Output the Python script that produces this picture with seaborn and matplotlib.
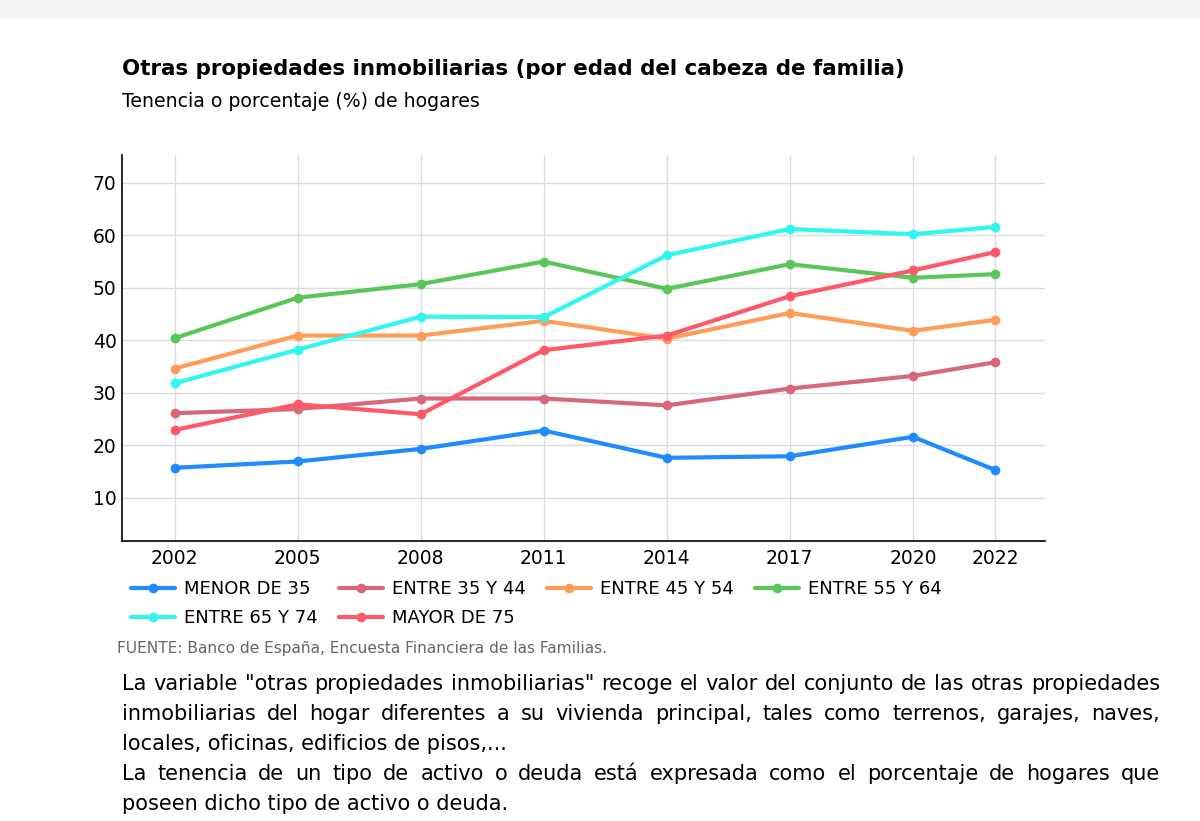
import pandas as pd
import matplotlib.pyplot as plt
import seaborn as sns
from matplotlib.patches import Rectangle

# Tenencia (%) de otras propiedades inmobiliarias por edad del cabeza de familia
years = [2002, 2005, 2008, 2011, 2014, 2017, 2020, 2022]
groups = ["MENOR DE 35", "ENTRE 35 Y 44", "ENTRE 45 Y 54",
          "ENTRE 55 Y 64", "ENTRE 65 Y 74", "MAYOR DE 75"]
menor_35 = [15.7, 16.9, 19.3, 22.8, 17.6, 17.9, 21.6, 15.3]
entre_35_44 = [26.1, 26.9, 28.9, 28.9, 27.6, 30.8, 33.2, 35.8]
entre_45_54 = [34.6, 40.9, 40.9, 43.7, 40.3, 45.2, 41.8, 43.9]
entre_55_64 = [40.4, 48.1, 50.7, 55.0, 49.8, 54.5, 51.9, 52.6]
entre_65_74 = [31.8, 38.2, 44.5, 44.4, 56.2, 61.2, 60.2, 61.6]
mayor_75 = [22.9, 27.8, 25.9, 38.1, 40.9, 48.4, 53.3, 56.8]
colors = ["#1f8bff", "#d6687a", "#ff9d58", "#58c757", "#2ff7f0", "#ff5868"]

title = "Otras propiedades inmobiliarias (por edad del cabeza de familia)"
subtitle = "Tenencia o porcentaje (%) de hogares"
source = "FUENTE: Banco de España, Encuesta Financiera de las Familias."
notes = [
    ('La variable "otras propiedades inmobiliarias" recoge el valor del conjunto de las otras propiedades', True),
    ("inmobiliarias del hogar diferentes a su vivienda principal, tales como terrenos, garajes, naves,", True),
    ("locales, oficinas, edificios de pisos,...", False),
    ("La tenencia de un tipo de activo o deuda está expresada como el porcentaje de hogares que", True),
    ("poseen dicho tipo de activo o deuda.", False),
]

df = pd.DataFrame({"year": years, groups[0]: menor_35, groups[1]: entre_35_44,
                   groups[2]: entre_45_54, groups[3]: entre_55_64,
                   groups[4]: entre_65_74, groups[5]: mayor_75})
df = df.melt(id_vars="year", var_name="grupo", value_name="valor")

sns.set_style("white")
plt.rcParams["font.family"] = ["DejaVu Sans"]
plt.rcParams["text.color"] = "black"

W, H = 1200, 821
fig = plt.figure(figsize=(12, 8.21), dpi=100)
fig.patches.append(Rectangle((0, 1 - 18 / H), 1, 18 / H, transform=fig.transFigure,
                             color="#f3f4f6", zorder=0))
ax = fig.add_axes([122 / W, 1 - 541 / H, (1045 - 122) / W, (541 - 155) / H])

sns.lineplot(data=df, x="year", y="valor", hue="grupo", hue_order=groups,
             palette=colors, marker="o", markersize=7, markeredgewidth=0,
             linewidth=3, ax=ax)

ax.set_xlim(2000.72, 2023.22)
ax.set_ylim(1.75, 75.3)
ax.set_xticks(years)
ax.set_yticks([10, 20, 30, 40, 50, 60, 70])
ax.set_xlabel("")
ax.set_ylabel("")
ax.grid(True, color="#dcdcdc", linewidth=1)
ax.set_axisbelow(True)
for s in ["top", "right"]:
    ax.spines[s].set_visible(False)
for s in ["left", "bottom"]:
    ax.spines[s].set_color("black")
    ax.spines[s].set_linewidth(1.2)
ax.tick_params(direction="in", length=5, width=1, labelsize=13.5, colors="black")
ax.tick_params(axis="x", pad=6)
ax.tick_params(axis="y", pad=4)

# legend filled row by row like the original (4 columns)
handles, labels = ax.get_legend_handles_labels()
order = [0, 4, 1, 5, 2, 3]
ax.legend([handles[i] for i in order], [labels[i] for i in order],
          loc="upper left", bbox_to_anchor=(131 / W, 1 - 580 / H),
          bbox_transform=fig.transFigure, ncol=4, frameon=False, fontsize=13,
          borderpad=0, borderaxespad=0, handlelength=2.45, handletextpad=0.5,
          columnspacing=1.15, labelspacing=0.62)

fig.text(122 / W, 1 - 75 / H, title, fontsize=15.4, fontweight="bold", va="baseline")
fig.text(122 / W, 1 - 107 / H, subtitle, fontsize=13.6, va="baseline")
fig.text(117 / W, 1 - 653 / H, source, fontsize=11.1, color="#666666", va="baseline")

# justified paragraph
fig.canvas.draw()
renderer = fig.canvas.get_renderer()
left, right = 122, 1160
baselines = [690, 720, 750, 780, 810]
for (line, justify), yb in zip(notes, baselines):
    y = 1 - yb / H
    if not justify:
        fig.text(left / W, y, line, fontsize=15, va="baseline")
        continue
    words = line.split(" ")
    texts = [fig.text(0, y, w, fontsize=15, va="baseline") for w in words]
    widths = [t.get_window_extent(renderer).width for t in texts]
    gap = (right - left - sum(widths)) / (len(words) - 1)
    x = left
    for t, wd in zip(texts, widths):
        t.set_x(x / W)
        x += wd + gap

fig.savefig("out.png", dpi=100)
